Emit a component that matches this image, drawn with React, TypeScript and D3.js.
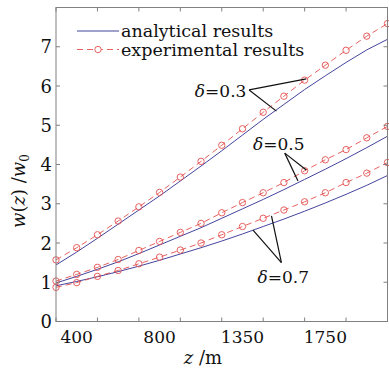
import React from 'react';
import * as d3 from 'd3';

// propagation distance (m), one sample every 100 m
const zValues = [300, 400, 500, 600, 700, 800, 900, 1000, 1100, 1200, 1300, 1400, 1500, 1600, 1700, 1800, 1900];

// w(z)/w0
const analytical03 = [1.44, 1.77, 2.12, 2.48, 2.84, 3.2, 3.58, 3.96, 4.35, 4.75, 5.15, 5.53, 5.91, 6.26, 6.6, 6.92, 7.19];
const experimental03 = [1.57, 1.88, 2.21, 2.56, 2.92, 3.29, 3.68, 4.08, 4.49, 4.91, 5.33, 5.74, 6.15, 6.53, 6.91, 7.27, 7.59];
const analytical05 = [0.98, 1.15, 1.33, 1.52, 1.73, 1.95, 2.17, 2.39, 2.63, 2.87, 3.11, 3.36, 3.62, 3.88, 4.15, 4.43, 4.72];
const experimental05 = [1.03, 1.2, 1.38, 1.58, 1.81, 2.04, 2.27, 2.5, 2.77, 3.03, 3.28, 3.54, 3.84, 4.12, 4.38, 4.68, 4.97];
const analytical07 = [0.91, 1.02, 1.14, 1.27, 1.41, 1.56, 1.72, 1.88, 2.05, 2.23, 2.42, 2.61, 2.81, 3.02, 3.24, 3.47, 3.72];
const experimental07 = [0.87, 0.99, 1.15, 1.3, 1.47, 1.64, 1.82, 2.0, 2.21, 2.42, 2.63, 2.84, 3.05, 3.28, 3.54, 3.78, 4.05];

const xTickValues = [300, 500, 700, 900, 1100, 1300, 1500, 1700, 1900];
// the printed labels sit between the tick marks
const xLabelPos = [400, 800, 1200, 1600];
const xLabelText = ['400', '800', '1350', '1750'];
const yTickValues = [0, 1, 2, 3, 4, 5, 6, 7];

// delta annotations: label anchor, pointer origin and the two targets (z, w)
const annotations = [
  { text: '0.3', label: [1219, 5.72], anchor: 'end', from: [1232, 5.9], to: [[1508, 6.18], [1364, 5.36]] },
  { text: '0.5', label: [1375, 4.37], anchor: 'middle', from: [1404, 4.29], to: [[1508, 3.86], [1468, 3.58]] },
  { text: '0.7', label: [1397, 0.98], anchor: 'middle', from: [1388, 1.5], to: [[1251, 2.33], [1340, 2.69]] },
];

const BLUE = '#45459e';
const RED = '#e2504f';
const AXIS = '#808080';
const FONT = 'DejaVu Serif';

export default function App() {
  const margin = { left: 56, right: 1.5, top: 7.5, bottom: 49.5 };
  const width = 389;
  const height = 371;
  const x = d3.scaleLinear().domain([300, 1900]).range([margin.left, width - margin.right]);
  const y = d3.scaleLinear().domain([0, 8]).range([height - margin.bottom, margin.top]);
  const x0 = x.range()[0], x1 = x.range()[1];
  const y0 = y.range()[0], y1 = y.range()[1];

  const line = (vals: number[]) =>
    d3.line<number>().x((_, i) => x(zValues[i])).y(d => y(d))(vals) || '';

  const pairs = [
    [analytical03, experimental03],
    [analytical05, experimental05],
    [analytical07, experimental07],
  ];

  const tick = 4;

  return (
    <svg width={width} height={height} style={{ position: 'absolute', left: 0, top: 0, background: '#fff' }}
      fontFamily={FONT}>
      <rect x={0} y={0} width={width} height={height} fill="#fff" />

      {/* curves */}
      {pairs.map(([an, ex], i) => (
        <g key={i}>
          <path d={line(an)} fill="none" stroke={BLUE} strokeWidth={1} />
          <path d={line(ex)} fill="none" stroke={RED} strokeWidth={0.9} strokeDasharray="6,4" />
          {ex.map((v, j) => (
            <circle key={j} cx={x(zValues[j])} cy={y(v)} r={3.2} fill="none" stroke={RED} strokeWidth={0.9} />
          ))}
        </g>
      ))}

      {/* frame and ticks */}
      <rect x={x0} y={y1} width={x1 - x0} height={y0 - y1} fill="none" stroke={AXIS} strokeWidth={1} />
      {xTickValues.map(t => (
        <g key={'xt' + t}>
          <line x1={x(t)} x2={x(t)} y1={y0} y2={y0 - tick} stroke={AXIS} />
          <line x1={x(t)} x2={x(t)} y1={y1} y2={y1 + tick} stroke={AXIS} />
        </g>
      ))}
      {yTickValues.map(t => (
        <g key={'yt' + t}>
          <line x1={x0} x2={x0 + tick} y1={y(t)} y2={y(t)} stroke={AXIS} />
          <line x1={x1} x2={x1 - tick} y1={y(t)} y2={y(t)} stroke={AXIS} />
          <text x={x0 - 4} y={y(t) + 6.5} textAnchor="end" fontSize={18} fill="#111">{t}</text>
        </g>
      ))}
      {xLabelPos.map((p, i) => (
        <text key={'xl' + i} x={x(p)} y={343} textAnchor="middle" fontSize={17} fill="#111">{xLabelText[i]}</text>
      ))}

      {/* axis titles */}
      <text x={203} y={364} textAnchor="middle" fontSize={18} fill="#111">
        <tspan fontStyle="italic">z</tspan> /m
      </text>
      <text transform="translate(25,191) rotate(-90)" textAnchor="middle" fontSize={18} fill="#111">
        <tspan fontStyle="italic">w</tspan>(<tspan fontStyle="italic">z</tspan>) /<tspan fontStyle="italic">w</tspan>
        <tspan fontSize={12} dy={4}>0</tspan>
      </text>

      {/* legend */}
      <line x1={77} x2={119} y1={31} y2={31} stroke={BLUE} strokeWidth={1} />
      <text x={121} y={37} fontSize={17.5} fill="#111">analytical results</text>
      <line x1={77} x2={119} y1={49.5} y2={49.5} stroke={RED} strokeWidth={0.9} strokeDasharray="6,4" />
      <circle cx={98} cy={49.5} r={3.2} fill="#fff" stroke={RED} strokeWidth={0.9} />
      <text x={121} y={55.5} fontSize={17.5} fill="#111">experimental results</text>

      {/* delta annotations */}
      {annotations.map((a, i) => (
        <g key={'an' + i}>
          {a.to.map((t, j) => (
            <line key={j} x1={x(a.from[0])} y1={y(a.from[1])} x2={x(t[0])} y2={y(t[1])} stroke="#111" strokeWidth={1.2} />
          ))}
          <text x={x(a.label[0])} y={y(a.label[1])} textAnchor={a.anchor} fontSize={17} fill="#111">
            <tspan fontStyle="italic">δ</tspan>={a.text}
          </text>
        </g>
      ))}
    </svg>
  );
}
